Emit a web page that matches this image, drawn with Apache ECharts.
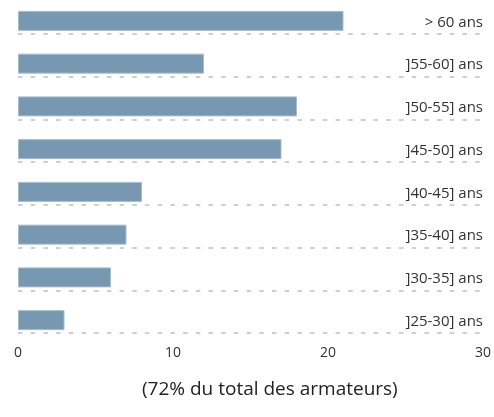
<!DOCTYPE html>
<html>
<head>
<meta charset="utf-8">
<script src="https://cdn.jsdelivr.net/npm/echarts@6/dist/echarts.min.js"></script>
<style>
html,body{margin:0;padding:0;background:#fff;}
#main{width:494px;height:417px;}
</style>
</head>
<body>
<div id="main"></div>
<script>
// tranches d'age, du haut vers le bas
var categories = ['> 60 ans', ']55-60] ans', ']50-55] ans', ']45-50] ans', ']40-45] ans', ']35-40] ans', ']30-35] ans', ']25-30] ans'];
var values = [21, 12, 18, 17, 8, 7, 6, 3];
var xTicks = [0, 10, 20, 30];
var titre = '(72% du total des armateurs)';

var chart = echarts.init(document.getElementById('main'));

// serie vide pour pousser les barres vers le bas de chaque bande
var spacer = categories.map(function () { return 0; });

var option = {
    animation: false,
    title: {
        text: titre,
        left: 137,
        top: 375,
        textStyle: {
            fontFamily: 'Open Sans',
            fontSize: 19,
            fontWeight: 'normal',
            color: '#222'
        }
    },
    grid: {
        left: 18,
        right: 11,
        top: -9,
        bottom: 84,
        outerBoundsMode: 'none',
        containLabel: false
    },
    xAxis: {
        type: 'value',
        min: xTicks[0],
        max: xTicks[xTicks.length - 1],
        interval: 10,
        axisLine: {show: false},
        axisTick: {show: false},
        splitLine: {show: false},
        axisLabel: {
            margin: 13,
            fontFamily: 'Open Sans',
            fontSize: 14,
            color: '#333'
        }
    },
    yAxis: {
        type: 'category',
        inverse: true,
        data: categories,
        position: 'right',
        axisLine: {show: false},
        axisTick: {show: false},
        axisLabel: {
            inside: true,
            margin: 0,
            verticalAlign: 'top',
            lineHeight: 20,
            fontFamily: 'Open Sans',
            fontSize: 15,
            color: '#333'
        },
        splitLine: {
            show: true,
            showMinLine: false,
            lineStyle: {color: '#cfcfcf', width: 2, type: [4.5, 8.2], dashOffset: 0}
        }
    },
    series: [
        {
            type: 'bar',
            data: spacer,
            barWidth: 17,
            barGap: '0%',
            silent: true,
            itemStyle: {color: 'rgba(0,0,0,0)'}
        },
        {
            type: 'bar',
            data: values,
            barWidth: 20,
            itemStyle: {color: '#7898b2', borderColor: '#a9bccb', borderWidth: 1}
        }
    ]
};

chart.setOption(option);
</script>
</body>
</html>
